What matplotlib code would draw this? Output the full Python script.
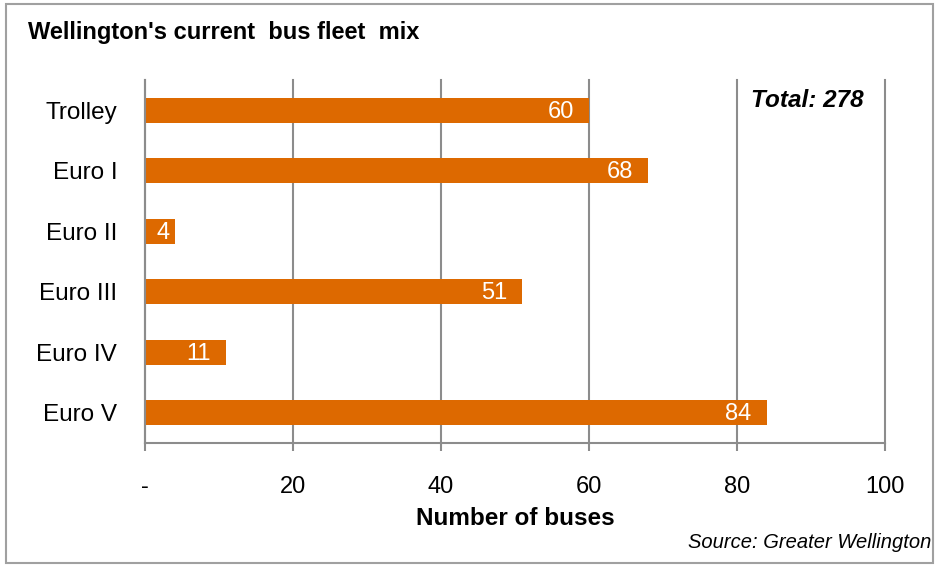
import matplotlib.pyplot as plt
from matplotlib.patches import Rectangle

plt.rcParams['font.family'] = ['Liberation Sans', 'DejaVu Sans']

# data
categories = ['Trolley', 'Euro I', 'Euro II', 'Euro III', 'Euro IV', 'Euro V']
buses = [60, 68, 4, 51, 11, 84]
xticks = [0, 20, 40, 60, 80, 100]
xtick_labels = ['-', '20', '40', '60', '80', '100']
total = sum(buses)

bar_color = '#DD6900'
grid_color = '#8C8C8C'

fig = plt.figure(figsize=(9.4, 5.65), dpi=100)
ax = fig.add_axes([145/940, 1-443/565, 740/940, 363/565])

y = list(range(len(categories)))
ax.barh(y, buses, height=0.42, color=bar_color, zorder=3)
ax.set_ylim(len(categories) - 0.5, -0.5)
ax.set_xlim(0, 100)

ax.set_yticks(y)
ax.set_yticklabels(categories, fontsize=17.5)
ax.set_xticks(xticks)
ax.set_xticklabels(xtick_labels, fontsize=17)
ax.tick_params(axis='y', length=0, pad=20)
ax.tick_params(axis='x', length=6, width=1.5, color=grid_color, pad=18, direction='out')

ax.xaxis.grid(True, color=grid_color, linewidth=1.5, zorder=0)
for gl in ax.get_xgridlines():
    gl.set_clip_on(False)
for side in ['top', 'right']:
    ax.spines[side].set_visible(False)
for side in ['left', 'bottom']:
    ax.spines[side].set_color(grid_color)
    ax.spines[side].set_linewidth(1.5)
    ax.spines[side].set_zorder(4)

# value labels inside the bar ends
for i, v in enumerate(buses):
    if v >= 8:
        ax.annotate(str(v), (v, i), xytext=(-11, -1), textcoords='offset points',
                    ha='right', va='center', color='white', fontsize=17, zorder=5)
    else:
        ax.annotate(str(v), (0, i), xytext=(8, -1), textcoords='offset points',
                    ha='left', va='center', color='white', fontsize=17, zorder=5)

ax.set_xlabel('Number of buses', fontsize=17.5, fontweight='bold', labelpad=6)

fig.text(28/940, 1-32/565, "Wellington's current  bus fleet  mix", fontsize=17,
         fontweight='bold', va='center', ha='left')
fig.text(864/940, 1-100/565, f'Total: {total}',
         fontsize=17.5, fontweight='bold', style='italic', ha='right', va='center')
fig.text(931/940, 1-543/565, 'Source: Greater Wellington', fontsize=14.5,
         style='italic', ha='right', va='center')

fig.patches.append(Rectangle((6/940, 2/565), 927/940, 559/565, transform=fig.transFigure,
                             fill=False, edgecolor='#A0A0A0', linewidth=1.5))

fig.savefig('out.png', dpi=100)
